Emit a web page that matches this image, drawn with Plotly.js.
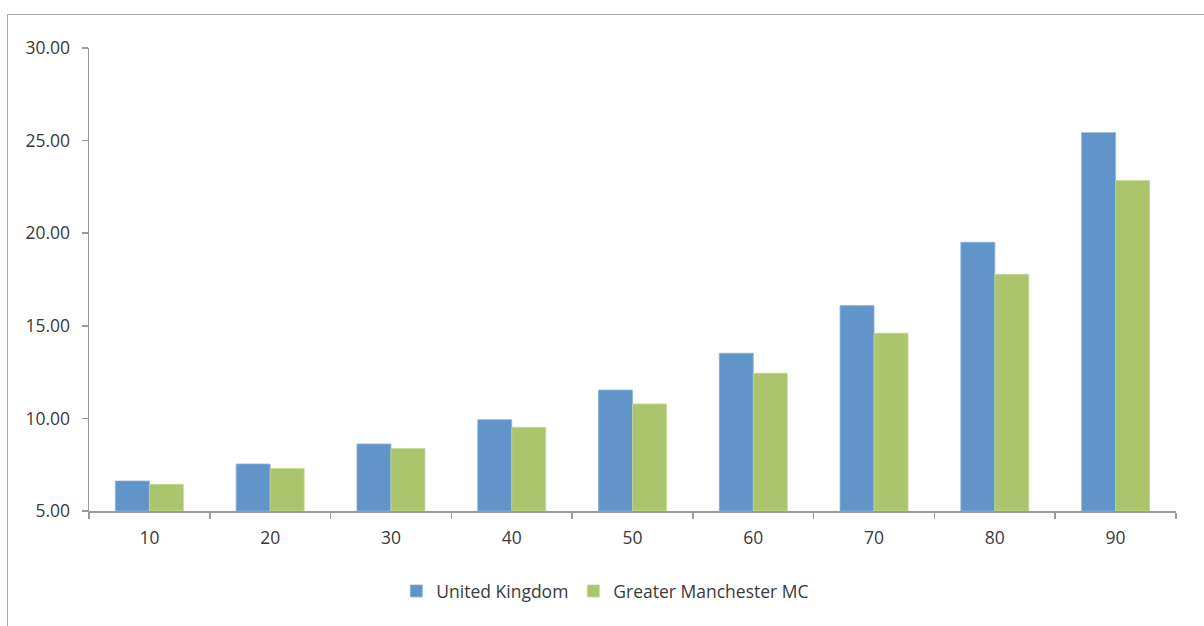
<!DOCTYPE html>
<html>
<head>
<meta charset="utf-8">
<script src="https://cdn.plot.ly/plotly-3.0.1.min.js"></script>
<style>
  html, body { margin: 0; padding: 0; background: #fff; }
  #wrap { position: relative; width: 1204px; height: 626px; overflow: hidden; }
  #chart { width: 1204px; height: 626px; }
  #frame { position: absolute; left: 7px; top: 14px; width: 1210px; height: 640px;
           border-left: 1.5px solid #a9a9a9; border-top: 1.5px solid #a9a9a9; pointer-events: none; }
</style>
</head>
<body>
<div id="wrap">
  <div id="chart"></div>
  <div id="frame"></div>
</div>
<script>
// Percentile categories along the x axis
const categories = ['10', '20', '30', '40', '50', '60', '70', '80', '90'];

// Values for each series
const ukValues = [6.62, 7.54, 8.62, 9.93, 11.53, 13.52, 16.09, 19.51, 25.43];
const gmValues = [6.44, 7.29, 8.37, 9.52, 10.78, 12.44, 14.60, 17.78, 22.84];

// Y axis ticks
const yTicks = [5, 10, 15, 20, 25, 30];
const yTickLabels = ['5.00', '10.00', '15.00', '20.00', '25.00', '30.00'];

const axisFloor = 5;
const fontFamily = 'Open Sans, Noto Sans, sans-serif';
const textColor = '#3a3a3a';

// Bars rise from the axis floor (5.00), so each is drawn as its height above it
const traces = [
  {
    type: 'bar', name: 'United Kingdom', x: categories,
    y: ukValues.map(v => v - axisFloor),
    marker: { color: '#6194c9', line: { color: '#8db2dc', width: 0.8 } },
    hoverinfo: 'skip'
  },
  {
    type: 'bar', name: 'Greater Manchester MC', x: categories,
    y: gmValues.map(v => v - axisFloor),
    marker: { color: '#abc56c', line: { color: '#c3d695', width: 0.8 } },
    hoverinfo: 'skip'
  }
];

const layout = {
  width: 1204, height: 626,
  margin: { l: 89, r: 28, t: 48, b: 115, pad: 0 },
  paper_bgcolor: '#ffffff', plot_bgcolor: '#ffffff',
  barmode: 'group', bargap: 0.437, bargroupgap: 0,
  font: { family: fontFamily, size: 17.5, color: textColor },
  showlegend: true,
  legend: {
    orientation: 'h', x: 0.475, xanchor: 'center', y: -0.173, yanchor: 'middle',
    font: { family: fontFamily, size: 17.5, color: textColor },
    itemwidth: 30, traceorder: 'normal'
  },
  xaxis: {
    type: 'category', range: [-0.5, 8.5],
    showline: true, linecolor: '#9a9a9a', linewidth: 1.5,
    ticks: 'outside', ticklen: 6, tickcolor: '#9a9a9a', tickwidth: 1.5,
    tickson: 'boundaries', showgrid: false, zeroline: false,
    ticklabelstandoff: 10,
    tickfont: { family: fontFamily, size: 17.5, color: textColor },
    fixedrange: true
  },
  yaxis: {
    range: [0, 25], autorange: false,
    tickvals: yTicks.map(v => v - axisFloor), ticktext: yTickLabels,
    showline: true, linecolor: '#9a9a9a', linewidth: 1.5,
    ticks: 'outside', ticklen: 6, tickcolor: '#9a9a9a', tickwidth: 1.5,
    showgrid: false, zeroline: false,
    ticklabelstandoff: 8,
    tickfont: { family: fontFamily, size: 17.5, color: textColor },
    fixedrange: true
  }
};

Plotly.newPlot('chart', traces, layout, { displayModeBar: false, staticPlot: true });
</script>
</body>
</html>
